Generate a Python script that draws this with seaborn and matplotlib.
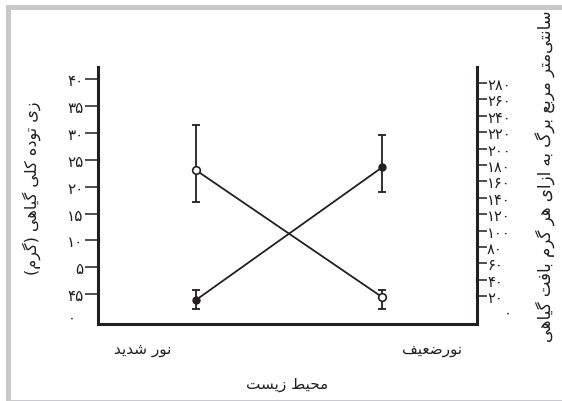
import numpy as np
import pandas as pd
import matplotlib
matplotlib.use("Agg")
import matplotlib.pyplot as plt
from matplotlib.patches import Rectangle
import seaborn as sns

# ---- data -------------------------------------------------------------
conditions = ["نور شدید", "نورضعیف"]          # strong light, weak light
x_pos = [0, 1]

biomass = [23.1, -0.5]                       # left axis (open circles)
biomass_err_low = [5.9, 2.2]
biomass_err_high = [8.4, 1.4]

leaf_area = [15.0, 177.1]                    # right axis (filled circles)
leaf_area_err_low = [11.0, 29.5]
leaf_area_err_high = [12.2, 39.4]

left_ticks = [40, 35, 30, 25, 20, 15, 10, 5, 0]
left_tick_labels = ["۴۰", "۳۵", "۳۰", "۲۵", "۲۰", "۱۵", "۱۰", "۵", "۴۵"]
right_ticks = [280, 260, 240, 220, 200, 180, 160, 140, 120, 100, 80, 60, 40, 20]
right_tick_labels = ["۲۸۰", "۲۶۰", "۲۴۰", "۲۲۰", "۲۰۰", "۱۸۰", "۱۶۰", "۱۴۰",
                     "۱۲۰", "۱۰۰", "۸۰", "۶۰", "۴۰", "۲۰"]
zero_label = "۰"

x_title = "محیط زیست"
left_title = "زی توده کلی گیاهی (گرم)"
right_title = "سانتی\u200cمتر مربع برگ به ازای هر گرم بافت گیاهی"

# ---- Persian shaping (contextual forms + visual order) -----------------
FORMS = {
    "ا": ("\uFE8D", "\uFE8E", None, None),
    "ب": ("\uFE8F", "\uFE90", "\uFE91", "\uFE92"),
    "ت": ("\uFE95", "\uFE96", "\uFE97", "\uFE98"),
    "ج": ("\uFE9D", "\uFE9E", "\uFE9F", "\uFEA0"),
    "ح": ("\uFEA1", "\uFEA2", "\uFEA3", "\uFEA4"),
    "د": ("\uFEA9", "\uFEAA", None, None),
    "ر": ("\uFEAD", "\uFEAE", None, None),
    "ز": ("\uFEAF", "\uFEB0", None, None),
    "س": ("\uFEB1", "\uFEB2", "\uFEB3", "\uFEB4"),
    "ش": ("\uFEB5", "\uFEB6", "\uFEB7", "\uFEB8"),
    "ض": ("\uFEBD", "\uFEBE", "\uFEBF", "\uFEC0"),
    "ط": ("\uFEC1", "\uFEC2", "\uFEC3", "\uFEC4"),
    "ع": ("\uFEC9", "\uFECA", "\uFECB", "\uFECC"),
    "ف": ("\uFED1", "\uFED2", "\uFED3", "\uFED4"),
    "ل": ("\uFEDD", "\uFEDE", "\uFEDF", "\uFEE0"),
    "م": ("\uFEE1", "\uFEE2", "\uFEE3", "\uFEE4"),
    "ن": ("\uFEE5", "\uFEE6", "\uFEE7", "\uFEE8"),
    "ه": ("\uFEE9", "\uFEEA", "\uFEEB", "\uFEEC"),
    "و": ("\uFEED", "\uFEEE", None, None),
    "ی": ("\uFBFC", "\uFBFD", "\uFBFE", "\uFBFF"),
    "ک": ("\uFB8E", "\uFB8F", "\uFB90", "\uFB91"),
    "گ": ("\uFB92", "\uFB93", "\uFB94", "\uFB95"),
}


def shape(text):
    out = []
    n = len(text)
    for i, c in enumerate(text):
        if c not in FORMS:
            if c != "\u200c":
                out.append(c)
            continue
        prev = text[i - 1] if i > 0 else None
        nxt = text[i + 1] if i < n - 1 else None
        join_prev = prev in FORMS and FORMS[prev][2] is not None
        join_next = FORMS[c][2] is not None and nxt in FORMS
        iso, fin, ini, med = FORMS[c]
        if join_prev and join_next:
            out.append(med)
        elif join_prev:
            out.append(fin)
        elif join_next:
            out.append(ini)
        else:
            out.append(iso)
    visual = "".join(out)[::-1]
    return visual.translate(str.maketrans("()", ")("))


# ---- style --------------------------------------------------------------
sns.set_theme(style="white")
plt.rcParams["font.family"] = ["DejaVu Sans"]
INK = "#231f20"

W, H = 562, 402
fig = plt.figure(figsize=(W / 100, H / 100), dpi=100)
fig.patch.set_facecolor("white")

# light grey page frame
fig.patches.append(Rectangle((7.5 / W, -1 / H), 2.0, (H - 7.5 + 1) / H,
                             transform=fig.transFigure, fill=False,
                             edgecolor="#c9c9cb", linewidth=3.6))

left_px, right_px, top_px, bottom_px = 98, 477, 68, 325
ax = fig.add_axes([left_px / W, 1 - bottom_px / H,
                   (right_px - left_px) / W, (bottom_px - top_px) / H])
ax2 = ax.twinx()
for a in (ax, ax2):
    a.set_facecolor("none")
    a.grid(False)

df = pd.DataFrame({"x": x_pos, "biomass": biomass, "leaf": leaf_area})

# open circles: plant biomass (left axis)
ax.errorbar(x_pos, biomass, yerr=[biomass_err_low, biomass_err_high],
            fmt="none", ecolor=INK, elinewidth=1.3, capsize=3, capthick=1.3,
            zorder=2)
sns.lineplot(data=df, x="x", y="biomass", ax=ax, color=INK, linewidth=1.3,
             marker="o", markersize=5.5, markerfacecolor="white",
             markeredgecolor=INK, markeredgewidth=1.2, zorder=3)

# filled circles: leaf area per gram (right axis)
ax2.errorbar(x_pos, leaf_area, yerr=[leaf_area_err_low, leaf_area_err_high],
             fmt="none", ecolor=INK, elinewidth=1.3, capsize=3, capthick=1.3,
             zorder=2)
sns.lineplot(data=df, x="x", y="leaf", ax=ax2, color=INK, linewidth=1.3,
             marker="o", markersize=5, markerfacecolor=INK,
             markeredgecolor=INK, markeredgewidth=1.0, zorder=3)

# axis ranges
ax.set_xlim(-0.523, 1.509)
ax.set_ylim(-5.5, 42.2)
ax2.set_ylim(-13.9, 299.5)

# spines
for a in (ax, ax2):
    a.spines["top"].set_visible(False)
    for s in ("left", "right", "bottom"):
        a.spines[s].set_linewidth(2.2)
        a.spines[s].set_color(INK)
ax.spines["right"].set_visible(False)
ax2.spines["left"].set_visible(False)
ax2.spines["bottom"].set_visible(False)

# ticks
ax.set_xticks([])
ax.set_xlabel("")
ax.set_ylabel("")
ax2.set_ylabel("")
ax.set_yticks(left_ticks)
ax.set_yticklabels(left_tick_labels)
ax.tick_params(axis="y", direction="out", length=9.5, width=1.1,
               color=INK, labelcolor=INK, labelsize=11, pad=1, left=True)
ax2.set_yticks(right_ticks)
ax2.set_yticklabels(right_tick_labels)
ax2.tick_params(axis="y", direction="out", length=7.2, width=1.1,
                color=INK, labelcolor=INK, labelsize=10.5, pad=0, right=True)

# zero labels below the lowest ticks
ax.text(-0.07, -4.2, zero_label, transform=ax.get_yaxis_transform(),
        ha="center", va="center", fontsize=10.5, color=INK)
ax2.text(1.08, 0, zero_label, transform=ax2.get_yaxis_transform(),
         ha="center", va="center", fontsize=10.5, color=INK)

# category labels and titles
def fig_text(xp, yp, s, **kw):
    fig.text(xp / W, 1 - yp / H, s, color=INK, **kw)

fig_text(143, 350, shape(conditions[0]), ha="center", va="center", fontsize=11)
fig_text(432, 350, shape(conditions[1]), ha="center", va="center", fontsize=11)
fig_text(287, 385, shape(x_title), ha="center", va="center", fontsize=11)
fig_text(32, 188, shape(left_title), ha="center", va="center",
         rotation=90, fontsize=11.5)
fig_text(546, 176, shape(right_title), ha="center", va="center",
         rotation=90, fontsize=12)

fig.savefig("out.png", dpi=100)
